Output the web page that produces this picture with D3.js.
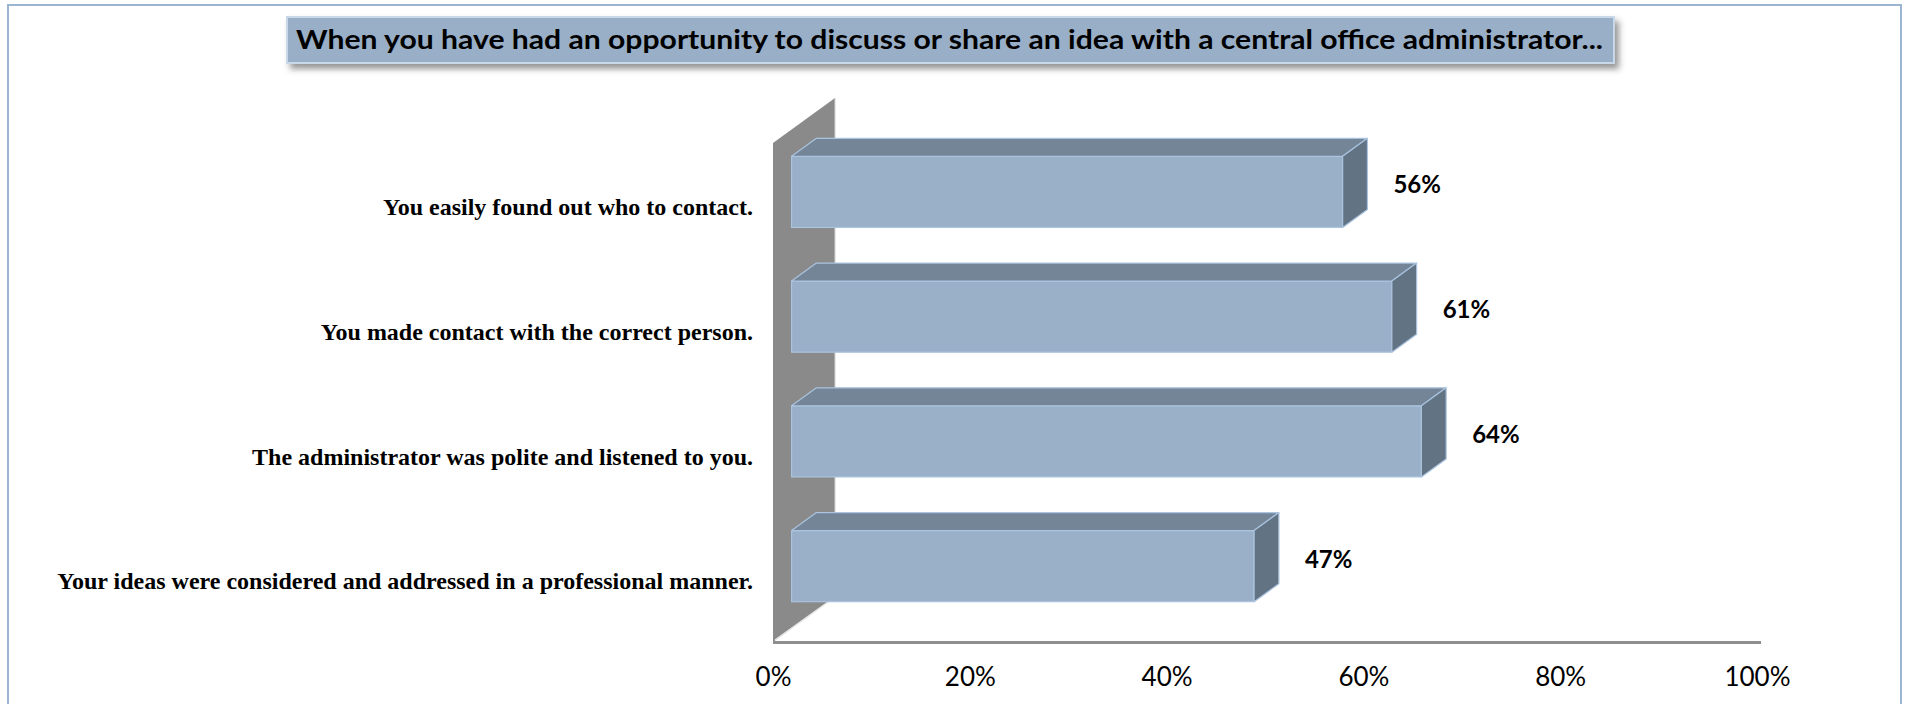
<!DOCTYPE html>
<html>
<head>
<meta charset="utf-8">
<script src="https://cdn.jsdelivr.net/npm/d3@7"></script>
<style>
  html, body { margin: 0; padding: 0; background: #ffffff; }
  svg { display: block; }
</style>
</head>
<body>
<svg id="chart" width="1907" height="704"></svg>
<script>
// Survey results: share of respondents agreeing with each statement
const titleText = "When you have had an opportunity to discuss or share an idea with a central office administrator...";
const categories = [
  "You easily found out who to contact.",
  "You made contact with the correct person.",
  "The administrator was polite and listened to you.",
  "Your ideas were considered and addressed in a professional manner."
];
const values = [0.56, 0.61, 0.64, 0.47];
const tickValues = [0, 0.2, 0.4, 0.6, 0.8, 1.0];

const svg = d3.select("#chart");

// 3-D frame: front plane origin, plot height, and the oblique depth vector
const x0 = 773, plotW = 984, plotTop = 143, plotBottom = 642;
const depth = { dx: 62, dy: -45 };
const zFront = 0.3, zBack = 0.7;   // bar slab position inside the depth

const x = d3.scaleLinear().domain([0, 1]).range([0, plotW]);
const y = d3.scaleBand().domain(categories).range([plotTop, plotBottom])
  .paddingInner(0.43).paddingOuter(0.215);

const defs = svg.append("defs");
const shadow = defs.append("filter").attr("id", "titleShadow")
  .attr("x", "-5%").attr("y", "-40%").attr("width", "110%").attr("height", "190%");
shadow.append("feDropShadow").attr("dx", 4).attr("dy", 5).attr("stdDeviation", 3)
  .attr("flood-color", "#404040").attr("flood-opacity", 0.55);

// Chart border
svg.append("rect")
  .attr("x", 8).attr("y", 5).attr("width", 1893).attr("height", 720)
  .attr("fill", "none").attr("stroke", "#9bb5d3").attr("stroke-width", 2);

// Side wall
const wall = [
  [x0, plotTop],
  [x0 + depth.dx, plotTop + depth.dy],
  [x0 + depth.dx, plotBottom + depth.dy],
  [x0, plotBottom]
];
svg.append("polygon")
  .attr("points", wall.map(p => p.join(",")).join(" "))
  .attr("fill", "#8a8a8a");
svg.append("line")
  .attr("x1", x0 + depth.dx).attr("y1", plotTop + depth.dy)
  .attr("x2", x0 + depth.dx).attr("y2", plotBottom + depth.dy)
  .attr("stroke", "#d4d4d4").attr("stroke-width", 1);
svg.append("line")
  .attr("x1", x0 + 2).attr("y1", plotBottom - 2)
  .attr("x2", x0 + depth.dx).attr("y2", plotBottom + depth.dy)
  .attr("stroke", "#e8e8e8").attr("stroke-width", 1.5);

// Floor front edge
svg.append("line")
  .attr("x1", x0).attr("y1", plotBottom + 0.5)
  .attr("x2", x0 + plotW + 4).attr("y2", plotBottom + 0.5)
  .attr("stroke", "#8e8e8e").attr("stroke-width", 3);

// Bars drawn as three faces each
const ddx = (zBack - zFront) * depth.dx, ddy = (zBack - zFront) * depth.dy;
const bars = svg.append("g").selectAll("g").data(categories.map((c, i) => ({ c, v: values[i] })))
  .join("g");

const fx = x0 + zFront * depth.dx;
const fy = d => y(d.c) + zFront * depth.dy;
const bw = y.bandwidth();
const edge = "#aac3de";

bars.append("rect")
  .attr("x", fx).attr("y", fy)
  .attr("width", d => x(d.v)).attr("height", bw)
  .attr("fill", "#99b0c8").attr("stroke", edge).attr("stroke-width", 1.2);

bars.append("polygon")
  .attr("points", d => {
    const t = fy(d), r = fx + x(d.v);
    return [[fx, t], [r, t], [r + ddx, t + ddy], [fx + ddx, t + ddy]].map(p => p.join(",")).join(" ");
  })
  .attr("fill", "#748597").attr("stroke", edge).attr("stroke-width", 1.2).attr("stroke-linejoin", "round");

bars.append("polygon")
  .attr("points", d => {
    const t = fy(d), r = fx + x(d.v);
    return [[r, t], [r + ddx, t + ddy], [r + ddx, t + ddy + bw], [r, t + bw]].map(p => p.join(",")).join(" ");
  })
  .attr("fill", "#627384").attr("stroke", edge).attr("stroke-width", 1.2).attr("stroke-linejoin", "round");

// Value labels beside each bar
bars.append("text")
  .attr("x", d => x0 + zBack * depth.dx + x(d.v) + 26)
  .attr("y", d => y(d.c) + bw / 2 + 0.5 * depth.dy + 2)
  .attr("dy", "0.35em")
  .attr("font-family", "Lato, 'Open Sans', sans-serif")
  .attr("font-weight", "bold").attr("font-size", 24).attr("fill", "#000")
  .text(d => d3.format(".0%")(d.v));

// Category axis (front plane)
const yAxis = svg.append("g")
  .attr("transform", `translate(753,0)`)
  .call(d3.axisLeft(y).tickSize(0).tickPadding(0));
yAxis.select(".domain").remove();
yAxis.selectAll("text")
  .attr("font-family", "'Liberation Serif', 'Times New Roman', serif")
  .attr("font-weight", "bold").attr("font-size", 24).attr("fill", "#000")
  .attr("y", 2);

// Value axis labels
const xAxis = svg.append("g")
  .attr("transform", `translate(${x0},${plotBottom})`)
  .call(d3.axisBottom(x).tickValues(tickValues).tickFormat(d3.format(".0%")).tickSize(0));
xAxis.select(".domain").remove();
xAxis.selectAll("text")
  .attr("y", 35).attr("dy", "0.35em")
  .attr("font-family", "Lato, 'Open Sans', sans-serif")
  .attr("font-size", 26).attr("fill", "#000");

// Title box
const tg = svg.append("g");
tg.append("rect")
  .attr("x", 287).attr("y", 17).attr("width", 1327).attr("height", 46)
  .attr("fill", "#98afc7").attr("stroke", "#c9d8e8").attr("stroke-width", 2)
  .attr("filter", "url(#titleShadow)");
tg.append("text")
  .attr("x", 296).attr("y", 40).attr("dy", "0.36em")
  .attr("font-family", "Lato, 'Open Sans', sans-serif")
  .attr("font-weight", "bold").attr("font-size", 26).attr("fill", "#000")
  .attr("textLength", 1307).attr("lengthAdjust", "spacingAndGlyphs")
  .text(titleText);
</script>
</body>
</html>
